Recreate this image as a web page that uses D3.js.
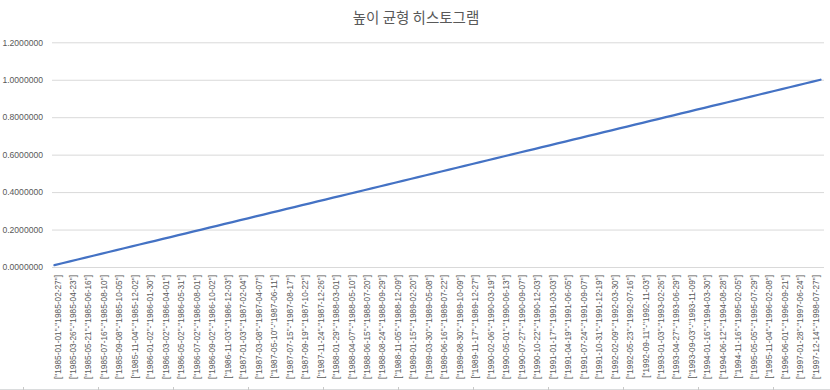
<!DOCTYPE html>
<html>
<head>
<meta charset="utf-8">
<script src="https://cdn.jsdelivr.net/npm/d3@7"></script>
<style>
  body { margin: 0; background: #fff; }
  svg { display: block; }
  .tick text { font-family: "Liberation Sans", Arial, sans-serif; fill: #595959; }
</style>
</head>
<body>
<div id="chart"></div>
<script>
// cumulative fraction per bucket (100 equal-height buckets)
var values = [
  0.01, 0.02, 0.03, 0.04, 0.05, 0.06, 0.07, 0.08, 0.09, 0.10,
  0.11, 0.12, 0.13, 0.14, 0.15, 0.16, 0.17, 0.18, 0.19, 0.20,
  0.21, 0.22, 0.23, 0.24, 0.25, 0.26, 0.27, 0.28, 0.29, 0.30,
  0.31, 0.32, 0.33, 0.34, 0.35, 0.36, 0.37, 0.38, 0.39, 0.40,
  0.41, 0.42, 0.43, 0.44, 0.45, 0.46, 0.47, 0.48, 0.49, 0.50,
  0.51, 0.52, 0.53, 0.54, 0.55, 0.56, 0.57, 0.58, 0.59, 0.60,
  0.61, 0.62, 0.63, 0.64, 0.65, 0.66, 0.67, 0.68, 0.69, 0.70,
  0.71, 0.72, 0.73, 0.74, 0.75, 0.76, 0.77, 0.78, 0.79, 0.80,
  0.81, 0.82, 0.83, 0.84, 0.85, 0.86, 0.87, 0.88, 0.89, 0.90,
  0.91, 0.92, 0.93, 0.94, 0.95, 0.96, 0.97, 0.98, 0.99, 1.00
];

// only every other bucket gets a label on the axis
var tickLabels = [
  '["1985-01-01"-"1985-02-27"]', '["1985-03-26"-"1985-04-23"]', '["1985-05-21"-"1985-06-16"]',
  '["1985-07-16"-"1985-08-10"]', '["1985-09-08"-"1985-10-05"]', '["1985-11-04"-"1985-12-02"]',
  '["1986-01-02"-"1986-01-30"]', '["1986-03-02"-"1986-04-01"]', '["1986-05-02"-"1986-05-31"]',
  '["1986-07-02"-"1986-08-01"]', '["1986-09-02"-"1986-10-02"]', '["1986-11-03"-"1986-12-03"]',
  '["1987-01-03"-"1987-02-04"]', '["1987-03-08"-"1987-04-07"]', '["1987-05-10"-"1987-06-11"]',
  '["1987-07-15"-"1987-08-17"]', '["1987-09-19"-"1987-10-22"]', '["1987-11-24"-"1987-12-26"]',
  '["1988-01-29"-"1988-03-01"]', '["1988-04-07"-"1988-05-10"]', '["1988-06-15"-"1988-07-20"]',
  '["1988-08-24"-"1988-09-29"]', '["1988-11-05"-"1988-12-09"]', '["1989-01-15"-"1989-02-20"]',
  '["1989-03-30"-"1989-05-08"]', '["1989-06-16"-"1989-07-22"]', '["1989-08-30"-"1989-10-09"]',
  '["1989-11-17"-"1989-12-27"]', '["1990-02-06"-"1990-03-19"]', '["1990-05-01"-"1990-06-13"]',
  '["1990-07-27"-"1990-09-07"]', '["1990-10-22"-"1990-12-03"]', '["1991-01-17"-"1991-03-03"]',
  '["1991-04-19"-"1991-06-05"]', '["1991-07-24"-"1991-09-07"]', '["1991-10-31"-"1991-12-19"]',
  '["1992-02-09"-"1992-03-30"]', '["1992-05-23"-"1992-07-16"]', '["1992-09-11"-"1992-11-03"]',
  '["1993-01-03"-"1993-02-26"]', '["1993-04-27"-"1993-06-29"]', '["1993-09-03"-"1993-11-09"]',
  '["1994-01-16"-"1994-03-30"]', '["1994-06-12"-"1994-08-28"]', '["1994-11-16"-"1995-02-05"]',
  '["1995-05-05"-"1995-07-29"]', '["1995-11-04"-"1996-02-08"]', '["1996-06-01"-"1996-09-21"]',
  '["1997-01-28"-"1997-06-24"]', '["1997-12-14"-"1998-07-27"]'
];

var yTicks = [0, 0.2, 0.4, 0.6, 0.8, 1.0, 1.2];
var title = "높이 균형 히스토그램";

var W = 830, H = 390;
var plot = { left: 52, right: 824, top: 42.3, bottom: 267 };

var svg = d3.select("#chart").append("svg")
    .attr("width", W)
    .attr("height", H);

// spreadsheet cell border peeking in at the bottom
svg.append("line")
    .attr("x1", 0).attr("x2", W)
    .attr("y1", 389.5).attr("y2", 389.5)
    .attr("stroke", "#dadcdd");
svg.selectAll(".cell")
    .data(d3.range(23, W, 75))
    .enter().append("line")
    .attr("x1", function(d) { return d + 0.5; })
    .attr("x2", function(d) { return d + 0.5; })
    .attr("y1", 387).attr("y2", 390)
    .attr("stroke", "#c8c8c8");

svg.append("text")
    .attr("x", 416)
    .attr("y", 23)
    .attr("text-anchor", "middle")
    .style("font-family", "'Noto Sans CJK KR', sans-serif")
    .style("font-size", "14.5px")
    .style("fill", "#595959")
    .text(title);

var x = d3.scalePoint()
    .domain(d3.range(values.length))
    .range([54.5, 820.5]);

var y = d3.scaleLinear()
    .domain([0, 1.2])
    .range([plot.bottom, plot.top]);

// y axis + gridlines
var yAxis = svg.append("g")
    .attr("transform", "translate(" + plot.left + ",0)")
    .call(d3.axisLeft(y)
        .tickValues(yTicks)
        .tickFormat(d3.format(".7f"))
        .tickSize(-(plot.right - plot.left))
        .tickPadding(9));
yAxis.select(".domain").remove();
yAxis.selectAll(".tick line").attr("stroke", "#d9d9d9");
yAxis.selectAll(".tick text").style("font-size", "8.6px");

// x axis
var xAxis = svg.append("g")
    .attr("transform", "translate(0," + plot.bottom + ")")
    .call(d3.axisBottom(x)
        .tickValues(d3.range(0, values.length, 2))
        .tickFormat(function(d) { return tickLabels[d / 2]; })
        .tickSize(0));
xAxis.select(".domain").remove();
xAxis.selectAll(".tick text")
    .style("font-size", "8.3px")
    .attr("text-anchor", "end")
    .attr("transform", "translate(5.5,8) rotate(-90)")
    .attr("x", 0)
    .attr("y", 0)
    .attr("dy", "0");

// the line
var line = d3.line()
    .x(function(d, i) { return x(i); })
    .y(function(d) { return y(d); });

svg.append("path")
    .datum(values)
    .attr("fill", "none")
    .attr("stroke", "#4472c4")
    .attr("stroke-width", 2.25)
    .attr("stroke-linejoin", "round")
    .attr("stroke-linecap", "round")
    .attr("d", line);
</script>
</body>
</html>
